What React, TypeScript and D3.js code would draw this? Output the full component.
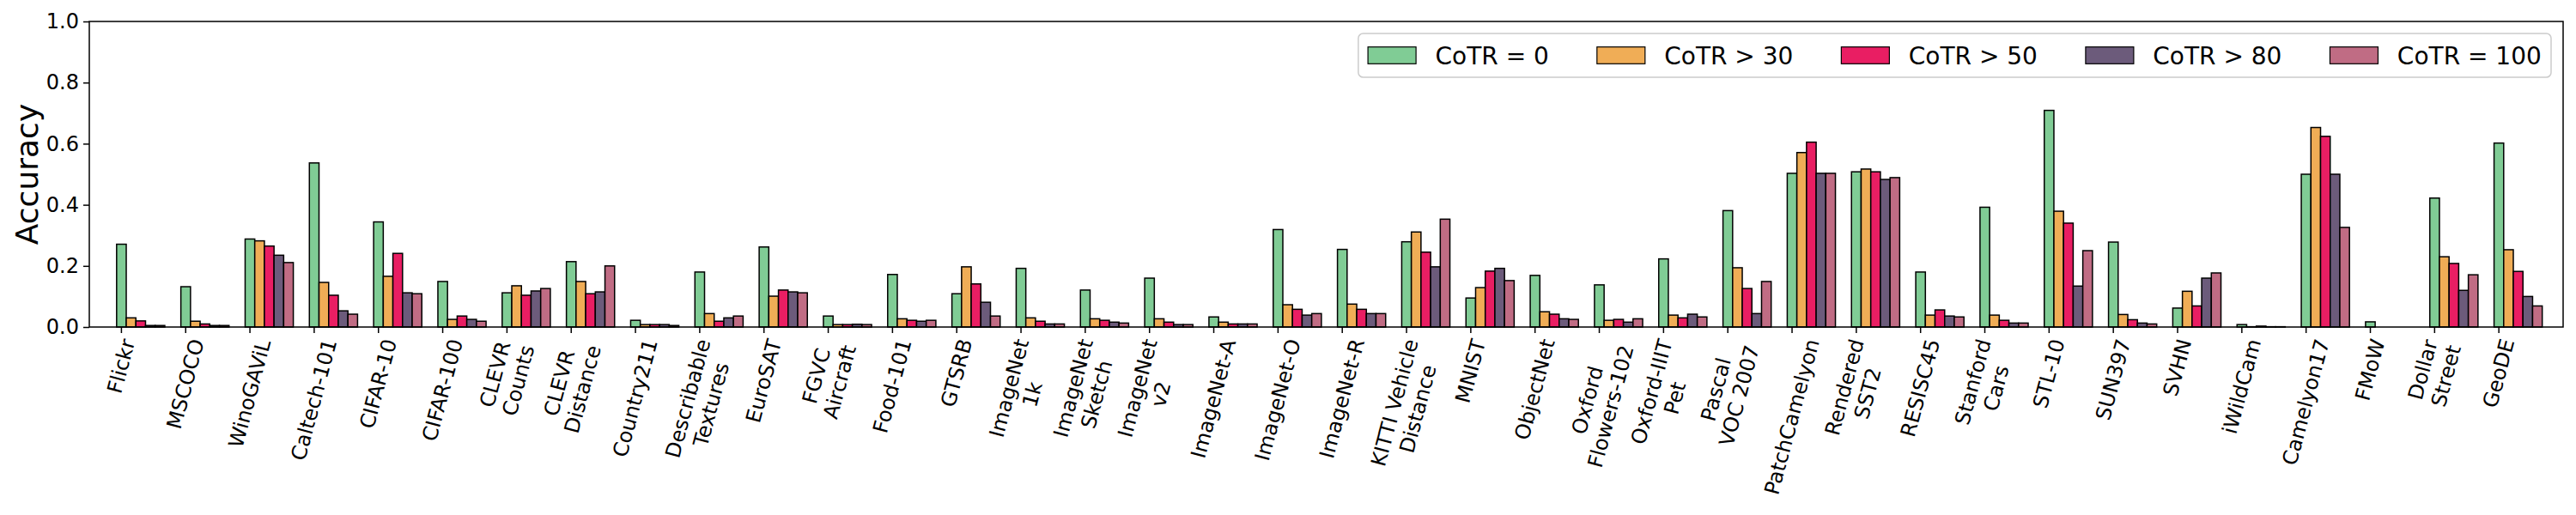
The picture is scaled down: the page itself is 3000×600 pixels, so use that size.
import { useEffect, useRef } from 'react';
import * as d3 from 'd3';

const datasets = [
  "Flickr", "MSCOCO", "WinoGAViL", "Caltech-101", "CIFAR-10", "CIFAR-100",
  "CLEVR\nCounts", "CLEVR\nDistance", "Country211", "Describable\nTextures", "EuroSAT",
  "FGVC\nAircraft", "Food-101", "GTSRB", "ImageNet\n1k", "ImageNet\nSketch", "ImageNet\nv2",
  "ImageNet-A", "ImageNet-O", "ImageNet-R", "KITTI Vehicle\nDistance", "MNIST", "ObjectNet",
  "Oxford\nFlowers-102", "Oxford-IIIT\nPet", "Pascal\nVOC 2007", "PatchCamelyon", "Rendered\nSST2",
  "RESISC45", "Stanford\nCars", "STL-10", "SUN397", "SVHN", "iWildCam", "Camelyon17", "FMoW",
  "Dollar\nStreet", "GeoDE"
];

const cotr0 = [
  0.271, 0.132, 0.288, 0.537, 0.344, 0.149, 0.112, 0.214, 0.022, 0.180, 0.262, 0.036, 0.172,
  0.109, 0.192, 0.121, 0.160, 0.033, 0.319, 0.254, 0.279, 0.095, 0.169, 0.138, 0.223, 0.381,
  0.503, 0.508, 0.180, 0.392, 0.709, 0.278, 0.062, 0.008, 0.500, 0.017, 0.422, 0.602
];
const cotr30 = [
  0.030, 0.019, 0.282, 0.146, 0.166, 0.025, 0.135, 0.149, 0.008, 0.044, 0.101, 0.008, 0.027,
  0.197, 0.030, 0.027, 0.027, 0.016, 0.073, 0.075, 0.311, 0.129, 0.050, 0.022, 0.039, 0.194,
  0.571, 0.517, 0.039, 0.039, 0.379, 0.041, 0.117, 0.001, 0.653, 0.000, 0.230, 0.253
];
const cotr50 = [
  0.020, 0.010, 0.265, 0.104, 0.241, 0.036, 0.104, 0.109, 0.008, 0.019, 0.121, 0.008, 0.022,
  0.141, 0.019, 0.022, 0.016, 0.010, 0.058, 0.058, 0.245, 0.183, 0.042, 0.025, 0.030, 0.126,
  0.605, 0.508, 0.056, 0.022, 0.340, 0.024, 0.069, 0.003, 0.624, 0.000, 0.208, 0.182
];
const cotr80 = [
  0.005, 0.005, 0.235, 0.053, 0.112, 0.025, 0.118, 0.115, 0.008, 0.030, 0.115, 0.009, 0.019,
  0.081, 0.010, 0.016, 0.008, 0.010, 0.039, 0.044, 0.197, 0.192, 0.027, 0.016, 0.042, 0.044,
  0.503, 0.483, 0.036, 0.013, 0.134, 0.013, 0.160, 0.001, 0.500, 0.000, 0.120, 0.100
];
const cotr100 = [
  0.005, 0.005, 0.211, 0.042, 0.109, 0.019, 0.126, 0.200, 0.005, 0.036, 0.112, 0.008, 0.022,
  0.036, 0.010, 0.013, 0.008, 0.010, 0.044, 0.044, 0.353, 0.152, 0.025, 0.027, 0.033, 0.149,
  0.503, 0.489, 0.033, 0.013, 0.250, 0.010, 0.177, 0.001, 0.326, 0.000, 0.171, 0.069
];

const seriesNames = ["CoTR = 0", "CoTR > 30", "CoTR > 50", "CoTR > 80", "CoTR = 100"];
const seriesValues = [cotr0, cotr30, cotr50, cotr80, cotr100];
const seriesColors = ["#80CC95", "#F0AD56", "#E91E63", "#6C5B7B", "#C06C84"];
const yTicks = [0, 0.2, 0.4, 0.6, 0.8, 1.0];

const WIDTH = 3000;
const HEIGHT = 600;
const FONT = "'DejaVu Sans', sans-serif";

export default function App() {
  const svgRef = useRef<SVGSVGElement>(null);

  useEffect(() => {
    if (!svgRef.current) return;
    const svg = d3.select(svgRef.current);
    svg.selectAll("*").remove();

    const plot = { left: 104, right: 2985, top: 25, bottom: 381 };
    const barWidth = 0.15;

    const x = d3.scaleLinear().domain([-0.5, datasets.length]).range([plot.left, plot.right]);
    const y = d3.scaleLinear().domain([0, 1]).range([plot.bottom, plot.top]);

    svg.append("rect").attr("width", WIDTH).attr("height", HEIGHT).attr("fill", "#fff");

    // bars
    seriesValues.forEach((vals, s) => {
      svg.append("g")
        .selectAll("rect")
        .data(vals)
        .enter()
        .append("rect")
        .attr("x", (_, i) => x(i + s * barWidth - barWidth / 2))
        .attr("width", x(barWidth) - x(0))
        .attr("y", d => y(d))
        .attr("height", d => y(0) - y(d))
        .attr("fill", seriesColors[s])
        .attr("stroke", "#000")
        .attr("stroke-width", 1.5);
    });

    // y axis
    const yAxis = svg.append("g")
      .attr("transform", `translate(${plot.left},0)`)
      .call(d3.axisLeft(y).tickValues(yTicks).tickFormat(d3.format(".1f")).tickSize(7).tickPadding(5));
    yAxis.select(".domain").remove();
    yAxis.selectAll("line").attr("stroke", "#000").attr("stroke-width", 1.5);
    yAxis.selectAll("text")
      .attr("font-family", FONT)
      .attr("font-size", 24)
      .attr("fill", "#000");

    // x ticks
    svg.append("g")
      .selectAll("line")
      .data(datasets)
      .enter()
      .append("line")
      .attr("x1", (_, i) => x(i))
      .attr("x2", (_, i) => x(i))
      .attr("y1", plot.bottom)
      .attr("y2", plot.bottom + 7)
      .attr("stroke", "#000")
      .attr("stroke-width", 1.5);

    // x tick labels, rotated 75deg, bbox centered under the tick
    const labelTop = plot.bottom + 11;
    datasets.forEach((name, i) => {
      const outer = svg.append("g");
      const inner = outer.append("g").attr("transform", "rotate(-75)");
      const lines = name.split("\n");
      const t = inner.append("text")
        .attr("font-family", FONT)
        .attr("font-size", 24)
        .attr("text-anchor", "middle")
        .attr("fill", "#000");
      lines.forEach((ln, k) => {
        t.append("tspan").attr("x", 0).attr("dy", k === 0 ? 0 : "1.17em").text(ln);
      });
      const bb = (outer.node() as SVGGElement).getBBox();
      outer.attr("transform", `translate(${x(i) - (bb.x + bb.width / 2)},${labelTop - bb.y})`);
    });

    // frame
    svg.append("rect")
      .attr("x", plot.left)
      .attr("y", plot.top)
      .attr("width", plot.right - plot.left)
      .attr("height", plot.bottom - plot.top)
      .attr("fill", "none")
      .attr("stroke", "#000")
      .attr("stroke-width", 1.5);

    // y label
    svg.append("text")
      .attr("transform", `translate(44,${(plot.top + plot.bottom) / 2}) rotate(-90)`)
      .attr("text-anchor", "middle")
      .attr("font-family", FONT)
      .attr("font-size", 36)
      .attr("fill", "#000")
      .text("Accuracy");

    // legend
    const fs = 28;
    const handleLen = 2 * fs;
    const handleH = 0.7 * fs;
    const handlePad = 0.8 * fs;
    const colSpacing = 2 * fs;
    const borderPad = 0.4 * fs;
    const legend = svg.append("g");
    const frame = legend.append("rect");
    const widths: number[] = [];
    const texts = seriesNames.map(n => {
      const tx = legend.append("text")
        .attr("font-family", FONT)
        .attr("font-size", fs)
        .attr("fill", "#000")
        .text(n);
      widths.push((tx.node() as SVGTextElement).getComputedTextLength());
      return tx;
    });
    const totalW = 2 * borderPad + d3.sum(widths) + seriesNames.length * (handleLen + handlePad) + (seriesNames.length - 1) * colSpacing;
    const legRight = plot.right - 0.5 * fs;
    const legTop = plot.top + 0.5 * fs;
    const legH = 51;
    const legLeft = legRight - totalW;
    frame
      .attr("x", legLeft)
      .attr("y", legTop)
      .attr("width", totalW)
      .attr("height", legH)
      .attr("rx", 0.2 * fs)
      .attr("fill", "#fff")
      .attr("fill-opacity", 0.8)
      .attr("stroke", "#cccccc")
      .attr("stroke-width", 1.5);
    let cx = legLeft + borderPad;
    const midY = legTop + legH / 2;
    seriesNames.forEach((_, s) => {
      legend.append("rect")
        .attr("x", cx)
        .attr("y", midY - handleH / 2)
        .attr("width", handleLen)
        .attr("height", handleH)
        .attr("fill", seriesColors[s])
        .attr("stroke", "#000")
        .attr("stroke-width", 1.2);
      texts[s].attr("x", cx + handleLen + handlePad).attr("y", midY + 0.36 * fs);
      cx += handleLen + handlePad + widths[s] + colSpacing;
    });
  }, []);

  return (
    <div style={{ position: "absolute", left: 0, top: 0 }}>
      <svg ref={svgRef} width={WIDTH} height={HEIGHT} style={{ display: "block" }} />
    </div>
  );
}
